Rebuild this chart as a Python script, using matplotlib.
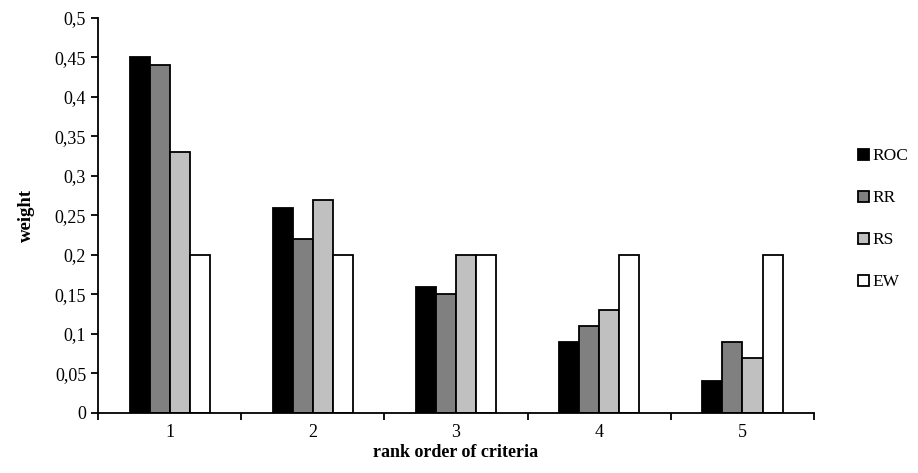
import numpy as np
import matplotlib.pyplot as plt
from matplotlib.ticker import FuncFormatter, FixedLocator

plt.rcParams['font.family'] = ['Liberation Serif', 'DejaVu Serif']

criteria = [1, 2, 3, 4, 5]
roc = [0.45, 0.26, 0.16, 0.09, 0.04]
rr = [0.44, 0.22, 0.15, 0.11, 0.09]
rs = [0.33, 0.27, 0.20, 0.13, 0.07]
ew = [0.20, 0.20, 0.20, 0.20, 0.20]

series = [("ROC", roc, "#000000"), ("RR", rr, "#808080"),
          ("RS", rs, "#c0c0c0"), ("EW", ew, "#ffffff")]

fig = plt.figure(figsize=(9.18, 4.73), dpi=100)
ax = fig.add_axes([0.1068, 0.127, 0.78, 0.835])

x = np.array(criteria)
w = 0.14
for i, (name, vals, col) in enumerate(series):
    ax.bar(x + (i - 1.5) * w, vals, width=w, color=col, edgecolor="black",
           linewidth=1.3, label=name)

ax.set_xlim(0.5, 5.5)
ax.set_ylim(0, 0.5)
ax.set_yticks(np.arange(0, 0.501, 0.05))
ax.yaxis.set_major_formatter(FuncFormatter(
    lambda v, p: "0" if abs(v) < 1e-9 else f"{v:.2f}".rstrip("0").replace(".", ",")))
ax.set_xticks(criteria)
ax.set_xticklabels([str(c) for c in criteria])
ax.tick_params(axis="x", which="major", length=0, pad=8)
ax.xaxis.set_minor_locator(FixedLocator(np.arange(0.5, 5.6, 1.0)))
ax.tick_params(axis="x", which="minor", length=5, width=1.3, direction="out")
ax.tick_params(axis="y", length=5, width=1.3, direction="out")
ax.tick_params(labelsize=13)

for s in ["top", "right"]:
    ax.spines[s].set_visible(False)
for s in ["left", "bottom"]:
    ax.spines[s].set_linewidth(1.3)

ax.set_ylabel("weight", fontsize=13.5, fontweight="bold", labelpad=14)
ax.set_xlabel("rank order of criteria", fontsize=13, fontweight="bold", labelpad=2)

leg = ax.legend(loc="center left", bbox_to_anchor=(1.04, 0.49), frameon=False,
                fontsize=12.5, handlelength=0.6, handleheight=0.6,
                handletextpad=0.2, labelspacing=1.5)

fig.savefig("out.png", dpi=100)
